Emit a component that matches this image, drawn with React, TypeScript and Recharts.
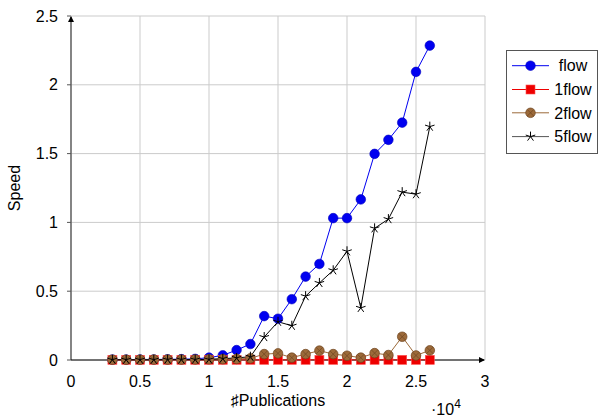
import React from "react";
import { LineChart, Line, XAxis, YAxis, CartesianGrid, ReferenceLine, Legend, Label } from "recharts";

// x values (number of publications), y values (speed) per series
const publications = [
  3000, 4000, 5000, 6000, 7000, 8000, 9000, 10000, 11000, 12000, 13000, 14000,
  15000, 16000, 17000, 18000, 19000, 20000, 21000, 22000, 23000, 24000, 25000, 26000,
];
const flow = [
  0.003, 0.003, 0.004, 0.004, 0.005, 0.006, 0.008, 0.017, 0.034, 0.072, 0.116, 0.319,
  0.3, 0.442, 0.606, 0.698, 1.031, 1.031, 1.167, 1.498, 1.6, 1.725, 2.094, 2.285,
];
const flow1 = [
  0.001, 0.001, 0.001, 0.001, 0.001, 0.001, 0.001, 0.001, 0.001, 0.001, 0.001, 0.001,
  0.001, 0.001, 0.001, 0.001, 0.001, 0.001, 0.001, 0.001, 0.001, 0.001, 0.001, 0.001,
];
const flow2 = [
  0.002, 0.002, 0.002, 0.003, 0.003, 0.003, 0.004, 0.005, 0.006, 0.008, 0.012, 0.043,
  0.048, 0.017, 0.043, 0.068, 0.043, 0.031, 0.017, 0.05, 0.036, 0.169, 0.033, 0.07,
];
const flow5 = [
  0.002, 0.002, 0.002, 0.002, 0.003, 0.003, 0.003, 0.004, 0.01, 0.015, 0.024, 0.167,
  0.278, 0.249, 0.464, 0.56, 0.652, 0.79, 0.379, 0.957, 1.024, 1.22, 1.205, 1.696,
];
const xTicks = [0, 5000, 10000, 15000, 20000, 25000, 30000];
const yTicks = [0, 0.5, 1, 1.5, 2, 2.5];

const data = publications.map((p, i) => ({
  pubs: p,
  flow: flow[i],
  flow1: flow1[i],
  flow2: flow2[i],
  flow5: flow5[i],
}));

const FONT = "'Liberation Sans', Arial, Helvetica, sans-serif";
const BLUE = "#0000f0";
const RED = "#ee0000";
const BROWN = "#9c6a3a";

const circleMark = (cx: number, cy: number, key?: any) => (
  <circle key={key} cx={cx} cy={cy} r={4.8} fill={BLUE} stroke="#0000c0" strokeWidth={0.6} />
);
const squareMark = (cx: number, cy: number, key?: any) => (
  <rect key={key} x={cx - 4.5} y={cy - 4.5} width={9} height={9} fill={RED} stroke="#ff5050" strokeWidth={0.6} />
);
const otimesMark = (cx: number, cy: number, key?: any) => {
  const d = 3.2;
  return (
    <g key={key}>
      <circle cx={cx} cy={cy} r={4.8} fill={BROWN} stroke="#6e4520" strokeWidth={0.7} />
      <path
        d={`M${cx - d},${cy - d}L${cx + d},${cy + d}M${cx - d},${cy + d}L${cx + d},${cy - d}`}
        stroke="#6e4520"
        strokeWidth={0.7}
      />
    </g>
  );
};
const starMark = (cx: number, cy: number, key?: any) => {
  const r = 5;
  let d = "";
  for (let k = 0; k < 5; k++) {
    const a = (Math.PI / 2) + (k * 2 * Math.PI) / 5;
    d += `M${cx},${cy}L${cx + r * Math.cos(a)},${cy - r * Math.sin(a)}`;
  }
  return <path key={key} d={d} stroke="#000" strokeWidth={1} fill="none" />;
};

const dotOf = (mark: (cx: number, cy: number, key?: any) => React.ReactElement) => (props: any) => {
  const { cx, cy, index } = props;
  if (cx == null || cy == null) return <g key={`e-${index}`} />;
  return mark(cx, cy, `d-${index}`);
};

const series = [
  { key: "flow", name: "flow", color: BLUE, mark: circleMark },
  { key: "flow1", name: "1flow", color: RED, mark: squareMark },
  { key: "flow2", name: "2flow", color: BROWN, mark: otimesMark },
  { key: "flow5", name: "5flow", color: "#000", mark: starMark },
];

const YArrow = (props: any) => {
  const { x1, y1, x2, y2 } = props;
  const top = Math.min(y1, y2);
  const bottom = Math.max(y1, y2);
  return (
    <g>
      <line x1={x1} y1={bottom} x2={x2} y2={top + 1} stroke="#444" strokeWidth={1.2} />
      <path d={`M${x1 - 3},${top + 6}L${x1},${top}L${x1 + 3},${top + 6}Z`} fill="#000" />
    </g>
  );
};
const XArrow = (props: any) => {
  const { x1, y1, x2 } = props;
  const left = Math.min(x1, x2);
  const right = Math.max(x1, x2);
  return (
    <g>
      <line x1={left} y1={y1} x2={right - 1} y2={y1} stroke="#000" strokeWidth={1} />
      <path d={`M${right - 6},${y1 - 3}L${right},${y1}L${right - 6},${y1 + 3}Z`} fill="#000" />
    </g>
  );
};

const LegendBox = () => {
  const rowY = [15.7, 39.5, 62.8, 86.6];
  return (
    <svg width={92} height={104} style={{ display: "block" }}>
      <rect x={0.5} y={0.5} width={91} height={103} fill="#fff" stroke="#555" strokeWidth={1} />
      {series.map((s, i) => (
        <g key={s.key}>
          <line x1={6} y1={rowY[i]} x2={43} y2={rowY[i]} stroke={s.key === "flow5" ? "#555" : s.color} strokeWidth={1} />
          {s.mark(24.5, rowY[i])}
          <text
            x={67}
            y={rowY[i]}
            dy="0.36em"
            textAnchor="middle"
            fontSize={16}
            fontFamily={FONT}
            fill="#000"
          >
            {s.name}
          </text>
        </g>
      ))}
    </svg>
  );
};

export default function App() {
  return (
    <div style={{ position: "absolute", left: 0, top: 0, width: 600, height: 417, background: "#fff", fontFamily: FONT }}>
      <LineChart
        width={600}
        height={417}
        data={data}
        margin={{ top: 16, right: 115, left: 0, bottom: 0 }}
      >
        <CartesianGrid stroke="#cbcbcb" strokeWidth={1} verticalPoints={undefined} />
        <XAxis
          dataKey="pubs"
          type="number"
          domain={[0, 30000]}
          ticks={xTicks}
          tickFormatter={(v: number) => String(v / 10000)}
          height={57}
          axisLine={false}
          tickLine={false}
          tickMargin={10}
          tick={{ fontSize: 16, fill: "#000", fontFamily: FONT }}
        >
          <Label
            content={(p: any) => {
              const vb = p.viewBox;
              return (
                <text x={vb.x + vb.width / 2} y={406} textAnchor="middle" fontSize={16} fontFamily={FONT} fill="#000">
                  ♯Publications
                </text>
              );
            }}
          />
          <Label
            content={() => (
              <text x={431} y={415} fontSize={16} fontFamily={FONT} fill="#000">
                ·10
                <tspan fontSize={12} dy={-7}>4</tspan>
              </text>
            )}
          />
        </XAxis>
        <YAxis
          type="number"
          domain={[0, 2.5]}
          ticks={yTicks}
          width={71}
          axisLine={false}
          tickSize={4}
          tickMargin={9}
          tickLine={{ stroke: "#555" }}
          tick={{ fontSize: 16, fill: "#000", fontFamily: FONT }}
        >
          <Label
            content={() => (
              <text
                x={20}
                y={188}
                transform="rotate(-90 20 188)"
                textAnchor="middle"
                fontSize={16}
                fontFamily={FONT}
                fill="#000"
              >
                Speed
              </text>
            )}
          />
        </YAxis>
        <ReferenceLine x={0} shape={YArrow} />
        <ReferenceLine y={0} shape={XArrow} />
        {series.map((s) => (
          <Line
            key={s.key}
            dataKey={s.key}
            name={s.name}
            type="linear"
            stroke={s.color}
            strokeWidth={1}
            dot={dotOf(s.mark)}
            activeDot={false}
            isAnimationActive={false}
          />
        ))}
        <Legend
          layout="horizontal"
          verticalAlign="middle"
          wrapperStyle={{ left: 506, top: 50, width: 92, height: 104 }}
          content={() => <LegendBox />}
        />
      </LineChart>
    </div>
  );
}
